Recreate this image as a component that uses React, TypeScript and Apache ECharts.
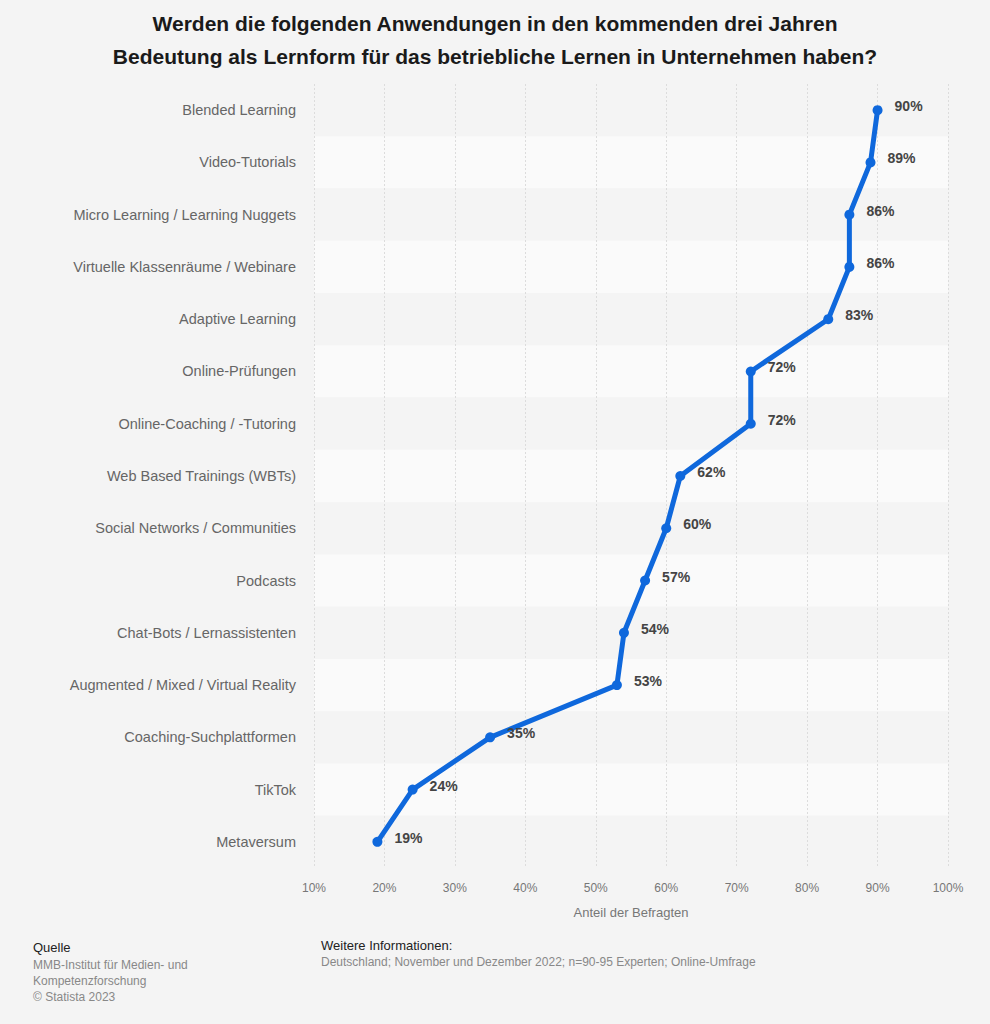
import React, { useEffect, useRef } from "react";
import * as echarts from "echarts";

const categories = [
  "Blended Learning",
  "Video-Tutorials",
  "Micro Learning / Learning Nuggets",
  "Virtuelle Klassenräume / Webinare",
  "Adaptive Learning",
  "Online-Prüfungen",
  "Online-Coaching / -Tutoring",
  "Web Based Trainings (WBTs)",
  "Social Networks / Communities",
  "Podcasts",
  "Chat-Bots / Lernassistenten",
  "Augmented / Mixed / Virtual Reality",
  "Coaching-Suchplattformen",
  "TikTok",
  "Metaversum",
];
const values = [90, 89, 86, 86, 83, 72, 72, 62, 60, 57, 54, 53, 35, 24, 19];

const titleLines = [
  "Werden die folgenden Anwendungen in den kommenden drei Jahren",
  "Bedeutung als Lernform für das betriebliche Lernen in Unternehmen haben?",
];
const axisName = "Anteil der Befragten";
const sourceLines = ["MMB-Institut für Medien- und", "Kompetenzforschung", "© Statista 2023"];
const infoLine = "Deutschland; November und Dezember 2022; n=90-95 Experten; Online-Umfrage";

const FONT = "'Liberation Sans', Arial, Helvetica, sans-serif";

export default function App() {
  const ref = useRef<HTMLDivElement>(null);
  useEffect(() => {
    if (!ref.current) return;
    const chart = echarts.init(ref.current, null, { renderer: "svg" });
    chart.setOption({
      animation: false,
      backgroundColor: "#f4f4f4",
      textStyle: { fontFamily: FONT },
      title: {
        text: titleLines.join("\n"),
        left: "center",
        top: 2,
        textStyle: {
          fontFamily: FONT,
          fontSize: 21,
          fontWeight: "bold",
          color: "#1a1a1a",
          lineHeight: 33,
        },
      },
      grid: { left: 314, right: 42, top: 84, bottom: 156, containLabel: false },
      xAxis: {
        type: "value",
        min: 10,
        max: 100,
        interval: 10,
        name: axisName,
        nameLocation: "middle",
        nameGap: 38,
        nameTextStyle: { color: "#777", fontSize: 13, fontFamily: FONT },
        axisLine: { show: false },
        axisTick: { show: false },
        axisLabel: {
          color: "#777",
          fontSize: 12,
          margin: 14,
          formatter: (v: number) => v + "%",
        },
        splitLine: { show: true, lineStyle: { color: "#dcdcdc", type: [2, 2], width: 1 } },
      },
      yAxis: {
        type: "category",
        data: categories,
        inverse: true,
        axisLine: { show: false },
        axisTick: { show: false },
        axisLabel: { color: "#666", fontSize: 14.5, margin: 18 },
        splitArea: { show: true, areaStyle: { color: ["#f4f4f4", "#fafafa"] } },
      },
      series: [
        {
          type: "line",
          data: values,
          symbol: "circle",
          symbolSize: 10,
          lineStyle: { color: "#0f68dc", width: 5 },
          itemStyle: { color: "#0f68dc" },
          label: {
            show: true,
            position: "right",
            distance: 10,
            offset: [2, -4],
            formatter: "{c}%",
            color: "#444",
            fontWeight: "bold",
            fontSize: 14,
          },
        },
      ],
      graphic: [
        {
          type: "text",
          left: 33,
          top: 941,
          style: { text: "Quelle", fill: "#222", font: `13px ${FONT}` },
        },
        {
          type: "text",
          left: 33,
          top: 957,
          style: {
            text: sourceLines.join("\n"),
            fill: "#888",
            font: `12px ${FONT}`,
            lineHeight: 16,
          },
        },
        {
          type: "text",
          left: 321,
          top: 939,
          style: { text: "Weitere Informationen:", fill: "#222", font: `13px ${FONT}` },
        },
        {
          type: "text",
          left: 321,
          top: 956,
          style: { text: infoLine, fill: "#888", font: `12px ${FONT}` },
        },
      ],
    });
    return () => chart.dispose();
  }, []);
  return (
    <div
      ref={ref}
      style={{ position: "fixed", left: 0, top: 0, width: 990, height: 1024 }}
    />
  );
}
